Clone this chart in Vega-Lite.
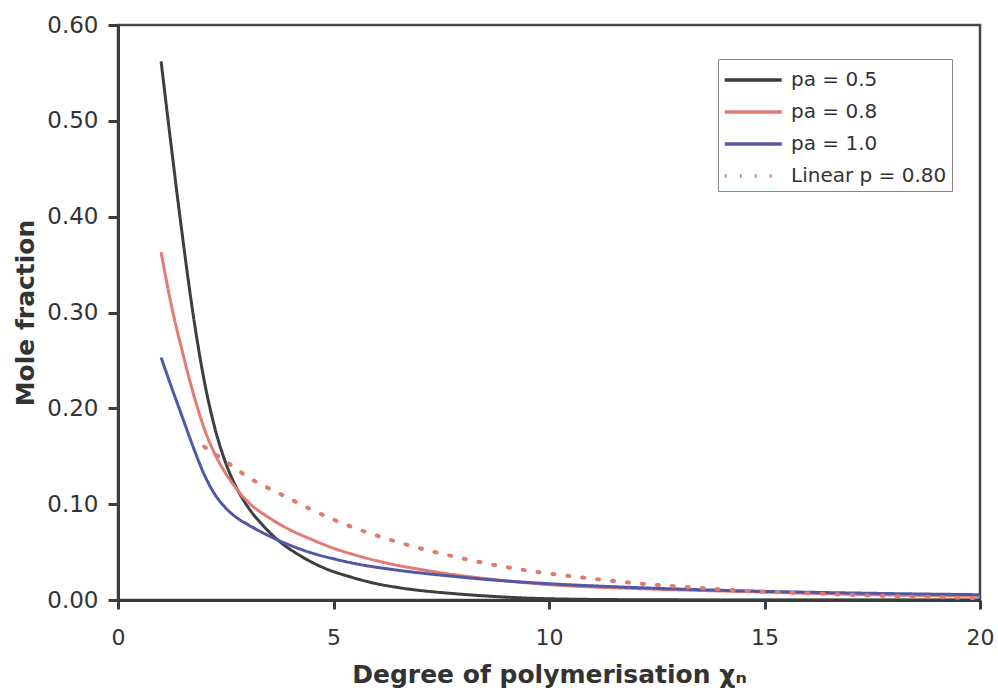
{
  "$schema": "https://vega.github.io/schema/vega-lite/v6.json",
  "autosize": {"type": "none"},
  "padding": {"left": 118, "top": 25, "right": 18, "bottom": 90},
  "width": 862,
  "height": 575,
  "background": "white",
  "config": {
    "view": {"stroke": "#454848", "strokeWidth": 2.5},
    "font": "DejaVu Sans"
  },
  "data": {
    "values": [
      {"x": 1.0, "y": 0.562, "s": "pa = 0.5"},
      {"x": 1.25, "y": 0.468, "s": "pa = 0.5"},
      {"x": 1.5, "y": 0.378, "s": "pa = 0.5"},
      {"x": 1.75, "y": 0.296, "s": "pa = 0.5"},
      {"x": 2.0, "y": 0.229, "s": "pa = 0.5"},
      {"x": 2.25, "y": 0.179, "s": "pa = 0.5"},
      {"x": 2.5, "y": 0.143, "s": "pa = 0.5"},
      {"x": 2.75, "y": 0.117, "s": "pa = 0.5"},
      {"x": 3.0, "y": 0.098, "s": "pa = 0.5"},
      {"x": 3.4, "y": 0.076, "s": "pa = 0.5"},
      {"x": 3.75, "y": 0.061, "s": "pa = 0.5"},
      {"x": 4.2, "y": 0.047, "s": "pa = 0.5"},
      {"x": 4.75, "y": 0.034, "s": "pa = 0.5"},
      {"x": 5.4, "y": 0.024, "s": "pa = 0.5"},
      {"x": 6.0, "y": 0.017, "s": "pa = 0.5"},
      {"x": 6.5, "y": 0.013, "s": "pa = 0.5"},
      {"x": 7.0, "y": 0.0100, "s": "pa = 0.5"},
      {"x": 7.7, "y": 0.007, "s": "pa = 0.5"},
      {"x": 8.8, "y": 0.0035, "s": "pa = 0.5"},
      {"x": 10.0, "y": 0.0013, "s": "pa = 0.5"},
      {"x": 12.0, "y": 0.0003, "s": "pa = 0.5"},
      {"x": 15.0, "y": 0.0, "s": "pa = 0.5"},
      {"x": 20.0, "y": 0.0, "s": "pa = 0.5"},

      {"x": 1.0, "y": 0.363, "s": "pa = 0.8"},
      {"x": 1.25, "y": 0.305, "s": "pa = 0.8"},
      {"x": 1.5, "y": 0.258, "s": "pa = 0.8"},
      {"x": 1.75, "y": 0.215, "s": "pa = 0.8"},
      {"x": 2.0, "y": 0.179, "s": "pa = 0.8"},
      {"x": 2.25, "y": 0.152, "s": "pa = 0.8"},
      {"x": 2.5, "y": 0.132, "s": "pa = 0.8"},
      {"x": 2.75, "y": 0.116, "s": "pa = 0.8"},
      {"x": 3.0, "y": 0.103, "s": "pa = 0.8"},
      {"x": 3.5, "y": 0.086, "s": "pa = 0.8"},
      {"x": 4.0, "y": 0.073, "s": "pa = 0.8"},
      {"x": 4.5, "y": 0.063, "s": "pa = 0.8"},
      {"x": 5.0, "y": 0.054, "s": "pa = 0.8"},
      {"x": 5.5, "y": 0.047, "s": "pa = 0.8"},
      {"x": 6.0, "y": 0.041, "s": "pa = 0.8"},
      {"x": 6.5, "y": 0.036, "s": "pa = 0.8"},
      {"x": 7.0, "y": 0.032, "s": "pa = 0.8"},
      {"x": 7.7, "y": 0.027, "s": "pa = 0.8"},
      {"x": 8.8, "y": 0.021, "s": "pa = 0.8"},
      {"x": 10.0, "y": 0.016, "s": "pa = 0.8"},
      {"x": 12.0, "y": 0.012, "s": "pa = 0.8"},
      {"x": 14.6, "y": 0.0087, "s": "pa = 0.8"},
      {"x": 17.0, "y": 0.006, "s": "pa = 0.8"},
      {"x": 20.0, "y": 0.004, "s": "pa = 0.8"},

      {"x": 1.0, "y": 0.253, "s": "pa = 1.0"},
      {"x": 1.25, "y": 0.221, "s": "pa = 1.0"},
      {"x": 1.5, "y": 0.19, "s": "pa = 1.0"},
      {"x": 1.75, "y": 0.159, "s": "pa = 1.0"},
      {"x": 2.0, "y": 0.131, "s": "pa = 1.0"},
      {"x": 2.25, "y": 0.11, "s": "pa = 1.0"},
      {"x": 2.5, "y": 0.096, "s": "pa = 1.0"},
      {"x": 2.75, "y": 0.086, "s": "pa = 1.0"},
      {"x": 3.0, "y": 0.079, "s": "pa = 1.0"},
      {"x": 3.5, "y": 0.067, "s": "pa = 1.0"},
      {"x": 4.0, "y": 0.057, "s": "pa = 1.0"},
      {"x": 4.5, "y": 0.049, "s": "pa = 1.0"},
      {"x": 5.0, "y": 0.043, "s": "pa = 1.0"},
      {"x": 5.5, "y": 0.038, "s": "pa = 1.0"},
      {"x": 6.5, "y": 0.031, "s": "pa = 1.0"},
      {"x": 7.7, "y": 0.025, "s": "pa = 1.0"},
      {"x": 8.8, "y": 0.0205, "s": "pa = 1.0"},
      {"x": 10.0, "y": 0.017, "s": "pa = 1.0"},
      {"x": 12.0, "y": 0.013, "s": "pa = 1.0"},
      {"x": 15.0, "y": 0.009, "s": "pa = 1.0"},
      {"x": 17.5, "y": 0.007, "s": "pa = 1.0"},
      {"x": 20.0, "y": 0.0055, "s": "pa = 1.0"},

      {"x": 2.0, "y": 0.16, "s": "Linear p = 0.80"},
      {"x": 2.71, "y": 0.138, "s": "Linear p = 0.80"},
      {"x": 3.02, "y": 0.128, "s": "Linear p = 0.80"},
      {"x": 3.39, "y": 0.119, "s": "Linear p = 0.80"},
      {"x": 3.75, "y": 0.111, "s": "Linear p = 0.80"},
      {"x": 4.41, "y": 0.096, "s": "Linear p = 0.80"},
      {"x": 4.79, "y": 0.088, "s": "Linear p = 0.80"},
      {"x": 5.41, "y": 0.0765, "s": "Linear p = 0.80"},
      {"x": 6.45, "y": 0.061, "s": "Linear p = 0.80"},
      {"x": 7.45, "y": 0.049, "s": "Linear p = 0.80"},
      {"x": 8.46, "y": 0.039, "s": "Linear p = 0.80"},
      {"x": 9.46, "y": 0.031, "s": "Linear p = 0.80"},
      {"x": 10.46, "y": 0.025, "s": "Linear p = 0.80"},
      {"x": 11.27, "y": 0.021, "s": "Linear p = 0.80"},
      {"x": 12.04, "y": 0.0174, "s": "Linear p = 0.80"},
      {"x": 12.85, "y": 0.0146, "s": "Linear p = 0.80"},
      {"x": 13.63, "y": 0.0122, "s": "Linear p = 0.80"},
      {"x": 14.44, "y": 0.0097, "s": "Linear p = 0.80"},
      {"x": 16.0, "y": 0.007, "s": "Linear p = 0.80"},
      {"x": 18.0, "y": 0.004, "s": "Linear p = 0.80"},
      {"x": 20.0, "y": 0.002, "s": "Linear p = 0.80"}
    ]
  },
  "encoding": {
    "x": {
      "field": "x", "type": "quantitative",
      "scale": {"domain": [0, 20], "nice": false},
      "axis": {
        "values": [0, 5, 10, 15, 20],
        "labelFlush": false,
        "title": "Degree of polymerisation χₙ",
        "grid": false,
        "domainColor": "#3a3d3d", "domainWidth": 3,
        "tickColor": "#3a3d3d", "tickWidth": 3, "tickSize": 9,
        "labelFontSize": 22, "labelColor": "#333", "labelPadding": 18, "labelFont": "DejaVu Sans",
        "titleFontSize": 25, "titleFontWeight": "bold", "titleColor": "#333", "titlePadding": 14, "titleFont": "DejaVu Sans"
      }
    },
    "y": {
      "field": "y", "type": "quantitative",
      "scale": {"domain": [0, 0.6], "nice": false},
      "axis": {
        "values": [0, 0.1, 0.2, 0.3, 0.4, 0.5, 0.6],
        "format": ".2f",
        "labelFlush": false,
        "title": "Mole fraction",
        "grid": false,
        "domainColor": "#3a3d3d", "domainWidth": 3,
        "tickColor": "#3a3d3d", "tickWidth": 3, "tickSize": 10,
        "labelFontSize": 23, "labelColor": "#333", "labelPadding": 10, "labelFont": "DejaVu Sans",
        "titleFontSize": 25, "titleFontWeight": "bold", "titleColor": "#333", "titlePadding": 8, "titleFont": "DejaVu Sans"
      }
    },
    "color": {
      "field": "s", "type": "nominal",
      "scale": {
        "domain": ["pa = 0.5", "pa = 0.8", "pa = 1.0", "Linear p = 0.80"],
        "range": ["#3b3f3f", "#e37b74", "#5257a6", "#e2796f"]
      },
      "legend": {
        "title": null,
        "orient": "none",
        "legendX": 600,
        "legendY": 34,
        "symbolType": "M-1,0H3",
        "symbolSize": 812,
        "symbolStrokeWidth": 3.5,
        "labelFontSize": 20,
        "labelColor": "#333",
        "labelFont": "DejaVu Sans",
        "labelOffset": 36,
        "rowPadding": 6,
        "padding": 5,
        "strokeColor": "#888",
        "fillColor": "white"
      }
    },
    "strokeDash": {
      "field": "s", "type": "nominal",
      "scale": {
        "domain": ["pa = 0.5", "pa = 0.8", "pa = 1.0", "Linear p = 0.80"],
        "range": [[1, 0], [1, 0], [1, 0], [2, 13]]
      },
      "legend": null
    }
  },
  "layer": [
    {
      "transform": [{"filter": "datum.s !== 'Linear p = 0.80'"}],
      "mark": {"type": "line", "strokeWidth": 3, "interpolate": "monotone", "clip": true}
    },
    {
      "transform": [{"filter": "datum.s === 'Linear p = 0.80'"}],
      "mark": {"type": "line", "strokeWidth": 4, "strokeCap": "round", "interpolate": "monotone", "clip": true}
    }
  ]
}
